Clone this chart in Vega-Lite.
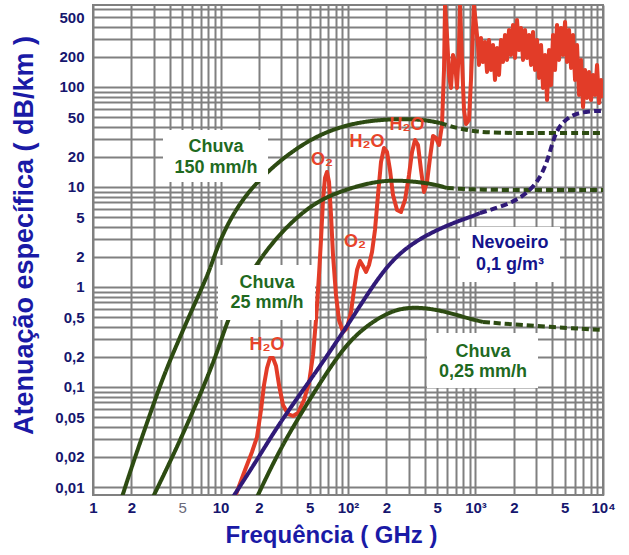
{
 "$schema": "https://vega.github.io/schema/vega-lite/v6.json",
 "width": 510, "height": 490,
 "autosize": "none",
 "padding": {"left": 93, "top": 5, "right": 26, "bottom": 60},
 "background": "white",
 "config": {"view": {"stroke": "#808080", "strokeWidth": 2}, "font": "Liberation Sans"},
 "datasets": {
  "gas": [
   {"freq":12.99,"aten":0.00794},{"freq":15.57,"aten":0.01479},{"freq":17.66,"aten":0.02239},{"freq":19.33,"aten":0.03162},{"freq":20.78,"aten":0.05888},{"freq":21.94,"aten":0.1047},{"freq":23.16,"aten":0.1549},{"freq":24.45,"aten":0.195},{"freq":25.81,"aten":0.195},{"freq":27.25,"aten":0.1622},{"freq":28.77,"aten":0.1047},{"freq":30.92,"aten":0.06607},{"freq":33.83,"aten":0.0537},{"freq":37.04,"aten":0.05129},{"freq":40.53,"aten":0.05495},{"freq":45.17,"aten":0.07413},{"freq":49.44,"aten":0.1096},{"freq":53.15,"aten":0.2089},{"freq":56.11,"aten":0.4677},{"freq":59.23,"aten":1.318},{"freq":61.4,"aten":2.951},{"freq":63.68,"aten":7.413},{"freq":66.01,"aten":12.3},{"freq":68.44,"aten":14.13},{"freq":70.96,"aten":11.22},{"freq":73.57,"aten":5.248},{"freq":76.28,"aten":2.089},{"freq":80.52,"aten":0.8318},{"freq":85.0,"aten":0.4677},{"freq":91.37,"aten":0.3548},{"freq":98.2,"aten":0.389},{"freq":105.6,"aten":0.5623},{"freq":111.4,"aten":0.9333},{"freq":117.7,"aten":1.479},{"freq":124.2,"aten":1.82},{"freq":131.1,"aten":1.622},{"freq":138.4,"aten":1.413},{"freq":146.1,"aten":1.66},{"freq":154.3,"aten":2.239},{"freq":162.8,"aten":3.715},{"freq":171.9,"aten":8.318},{"freq":181.5,"aten":17.78},{"freq":191.6,"aten":24.55},{"freq":202.3,"aten":22.39},{"freq":213.5,"aten":14.79},{"freq":225.4,"aten":8.318},{"freq":242.3,"aten":5.888},{"freq":260.4,"aten":5.623},{"freq":280.0,"aten":7.413},{"freq":300.9,"aten":13.18},{"freq":317.8,"aten":22.39},{"freq":335.4,"aten":29.51},{"freq":354.0,"aten":26.3},{"freq":373.7,"aten":14.79},{"freq":394.6,"aten":8.913},{"freq":416.5,"aten":11.22},{"freq":439.7,"aten":19.5},{"freq":464.2,"aten":32.36},{"freq":490.0,"aten":30.9},{"freq":517.3,"aten":26.3},{"freq":546.1,"aten":41.69},{"freq":566.2,"aten":147.9},{"freq":576.6,"aten":650},{"freq":597.6,"aten":331.1},{"freq":619.8,"aten":131.8},{"freq":642.5,"aten":97.72},{"freq":666.2,"aten":208.9},{"freq":690.6,"aten":177.8},{"freq":716.1,"aten":97.72},{"freq":742.4,"aten":263},{"freq":755.9,"aten":650},{"freq":783.7,"aten":186.2},{"freq":812.6,"aten":58.88},{"freq":842.4,"aten":42.66},{"freq":889.2,"aten":46.77},{"freq":921.9,"aten":117.5},{"freq":955.5,"aten":371.5},{"freq":973.2,"aten":650},{"freq":1009,"aten":416.9},{"freq":1046,"aten":263},
   {"freq":1065,"aten":166},{"freq":1104,"aten":309},{"freq":1145,"aten":177.8},{"freq":1187,"aten":281.8},{"freq":1231,"aten":141.3},{"freq":1276,"aten":295.1},{"freq":1323,"aten":147.9},{"freq":1372,"aten":263},{"freq":1422,"aten":117.5},{"freq":1475,"aten":245.5},{"freq":1529,"aten":131.8},{"freq":1585,"aten":295.1},{"freq":1644,"aten":177.8},{"freq":1704,"aten":331.1},{"freq":1767,"aten":186.2},{"freq":1832,"aten":371.5},{"freq":1899,"aten":208.9},{"freq":1969,"aten":416.9},{"freq":2042,"aten":195},{"freq":2117,"aten":467.7},{"freq":2195,"aten":234.4},{"freq":2275,"aten":389},{"freq":2359,"aten":186.2},{"freq":2446,"aten":371.5},{"freq":2536,"aten":195},{"freq":2629,"aten":331.1},{"freq":2726,"aten":166},{"freq":2826,"aten":354.8},{"freq":2930,"aten":147.9},{"freq":3038,"aten":295.1},{"freq":3150,"aten":123},{"freq":3266,"aten":263},{"freq":3386,"aten":97.72},{"freq":3510,"aten":208.9},{"freq":3640,"aten":74.13},{"freq":3773,"aten":234.4},{"freq":3912,"aten":104.7},{"freq":4056,"aten":331.1},{"freq":4205,"aten":147.9},{"freq":4360,"aten":416.9},{"freq":4521,"aten":186.2},{"freq":4687,"aten":389},{"freq":4859,"aten":208.9},{"freq":5038,"aten":446.7},{"freq":5223,"aten":177.8},{"freq":5416,"aten":371.5},{"freq":5615,"aten":154.9},{"freq":5821,"aten":331.1},{"freq":6036,"aten":117.5},{"freq":6258,"aten":263},{"freq":6488,"aten":83.18},{"freq":6727,"aten":186.2},{"freq":6974,"aten":63.1},{"freq":7231,"aten":147.9},{"freq":7497,"aten":77.62},{"freq":7773,"aten":141.3},{"freq":8059,"aten":74.13},{"freq":8355,"aten":131.8},{"freq":8663,"aten":83.18},{"freq":8981,"aten":166},{"freq":9312,"aten":69.18},{"freq":9655,"aten":117.5},{"freq":10000,"aten":77.62}
  ],
  "chuva": [
   {"serie":"150","trecho":"solid","freq":1.688,"aten":0.00794},{"serie":"150","trecho":"solid","freq":2.059,"aten":0.01738},{"serie":"150","trecho":"solid","freq":2.7,"aten":0.04677},{"serie":"150","trecho":"solid","freq":3.54,"aten":0.1259},{"serie":"150","trecho":"solid","freq":4.812,"aten":0.3162},{"serie":"150","trecho":"solid","freq":6.31,"aten":0.6918},{"serie":"150","trecho":"solid","freq":8.274,"aten":1.479},{"serie":"150","trecho":"solid","freq":9.387,"aten":2.512},{"serie":"150","trecho":"solid","freq":12.53,"aten":5.495},{"serie":"150","trecho":"solid","freq":17.98,"aten":10.23},{"serie":"150","trecho":"solid","freq":27.74,"aten":17.38},{"serie":"150","trecho":"solid","freq":42.03,"aten":25.7},{"serie":"150","trecho":"solid","freq":63.68,"aten":34.67},{"serie":"150","trecho":"solid","freq":109.5,"aten":43.65},{"serie":"150","trecho":"solid","freq":202.3,"aten":47.86},{"serie":"150","trecho":"solid","freq":367.2,"aten":47.86},{"serie":"150","trecho":"solid","freq":526.7,"aten":43.65},
   {"serie":"150","trecho":"dashed","freq":526.7,"aten":43.65},{"serie":"150","trecho":"dashed","freq":798,"aten":37.15},{"serie":"150","trecho":"dashed","freq":1300,"aten":34.67},{"serie":"150","trecho":"dashed","freq":2675,"aten":34.67},{"serie":"150","trecho":"dashed","freq":10000,"aten":34.67},
   {"serie":"25","trecho":"solid","freq":2.955,"aten":0.00794},{"serie":"25","trecho":"solid","freq":4.018,"aten":0.01778},{"serie":"25","trecho":"solid","freq":5.462,"aten":0.04169},{"serie":"25","trecho":"solid","freq":7.292,"aten":0.09772},{"serie":"25","trecho":"solid","freq":9.387,"aten":0.2188},{"serie":"25","trecho":"solid","freq":11.25,"aten":0.4467},{"serie":"25","trecho":"solid","freq":14.22,"aten":0.8913},{"serie":"25","trecho":"solid","freq":19.33,"aten":1.738},{"serie":"25","trecho":"solid","freq":27.74,"aten":3.162},{"serie":"25","trecho":"solid","freq":42.03,"aten":5.37},{"serie":"25","trecho":"solid","freq":63.68,"aten":7.762},{"serie":"25","trecho":"solid","freq":109.5,"aten":10},{"serie":"25","trecho":"solid","freq":188.2,"aten":11.75},{"serie":"25","trecho":"solid","freq":306.4,"aten":11.48},{"serie":"25","trecho":"solid","freq":464.2,"aten":10.72},{"serie":"25","trecho":"solid","freq":597.6,"aten":9.772},
   {"serie":"25","trecho":"dashed","freq":597.6,"aten":9.772},{"serie":"25","trecho":"dashed","freq":1084,"aten":9.333},{"serie":"25","trecho":"dashed","freq":3206,"aten":9.333},{"serie":"25","trecho":"dashed","freq":10000,"aten":9.333},
   {"serie":"0,25","trecho":"solid","freq":19.33,"aten":0.00794},{"serie":"0,25","trecho":"solid","freq":27.74,"aten":0.02089},{"serie":"0,25","trecho":"solid","freq":39.81,"aten":0.04677},{"serie":"0,25","trecho":"solid","freq":63.68,"aten":0.123},{"serie":"0,25","trecho":"solid","freq":98.2,"aten":0.2754},{"serie":"0,25","trecho":"solid","freq":148.8,"aten":0.4365},{"serie":"0,25","trecho":"solid","freq":225.4,"aten":0.5888},{"serie":"0,25","trecho":"solid","freq":323.6,"aten":0.631},{"serie":"0,25","trecho":"solid","freq":464.2,"aten":0.6026},{"serie":"0,25","trecho":"solid","freq":631,"aten":0.5495},{"serie":"0,25","trecho":"solid","freq":857.7,"aten":0.4898},{"serie":"0,25","trecho":"solid","freq":1145,"aten":0.4467},
   {"serie":"0,25","trecho":"dashed","freq":1145,"aten":0.4467},{"serie":"0,25","trecho":"dashed","freq":2825,"aten":0.4074},{"serie":"0,25","trecho":"dashed","freq":10000,"aten":0.3715}
  ],
  "nevoeiro": [
   {"trecho":"solid","freq":12.53,"aten":0.00794},{"trecho":"solid","freq":19.33,"aten":0.01862},{"trecho":"solid","freq":27.74,"aten":0.03981},{"trecho":"solid","freq":44.36,"aten":0.09333},{"trecho":"solid","freq":63.68,"aten":0.1778},{"trecho":"solid","freq":109.5,"aten":0.5012},{"trecho":"solid","freq":148.8,"aten":0.9333},{"trecho":"solid","freq":225.4,"aten":1.95},{"trecho":"solid","freq":367.2,"aten":3.09},{"trecho":"solid","freq":631,"aten":4.266},{"trecho":"solid","freq":955.5,"aten":5.129},{"trecho":"solid","freq":1084,"aten":5.495},
   {"trecho":"dashed","freq":1084,"aten":5.495},{"trecho":"dashed","freq":1556,"aten":6.31},{"trecho":"dashed","freq":2234,"aten":7.586},{"trecho":"dashed","freq":3034,"aten":10.72},{"trecho":"dashed","freq":3638,"aten":17.38},{"trecho":"dashed","freq":4055,"aten":29.51},{"trecho":"dashed","freq":4603,"aten":42.66},{"trecho":"dashed","freq":5821,"aten":53.7},{"trecho":"dashed","freq":7907,"aten":57.54},{"trecho":"dashed","freq":10000,"aten":57.54}
  ],
  "caixas": [
   {"freq":3.54,"freq2":23.59,"aten":37.15,"aten2":11.22},
   {"freq":9.559,"freq2":55.1,"aten":1.66,"aten2":0.4677},
   {"freq":755.9,"freq2":4603,"aten":3.981,"aten2":1.122},
   {"freq":416.5,"freq2":3092,"aten":0.3467,"aten2":0.09772}
  ],
  "rotulos": [
   {"txt":"Chuva","freq":9.219,"aten":25.12,"tipo":"chuva"},
   {"txt":"150 mm/h","freq":9.219,"aten":15.49,"tipo":"chuva"},
   {"txt":"Chuva","freq":23.16,"aten":1.096,"tipo":"chuva"},
   {"txt":"25 mm/h","freq":23.16,"aten":0.6918,"tipo":"chuva"},
   {"txt":"Nevoeiro","freq":1865,"aten":2.754,"tipo":"nevoeiro"},
   {"txt":"0,1 g/m³","freq":1865,"aten":1.66,"tipo":"nevoeiro"},
   {"txt":"Chuva","freq":1145,"aten":0.2239,"tipo":"chuva"},
   {"txt":"0,25 mm/h","freq":1145,"aten":0.1413,"tipo":"chuva"},
   {"txt":"H₂O","freq":23.16,"aten":0.263,"tipo":"gas"},
   {"txt":"O₂","freq":62.53,"aten":18.62,"tipo":"gas"},
   {"txt":"O₂","freq":113.4,"aten":2.818,"tipo":"gas"},
   {"txt":"H₂O","freq":140.9,"aten":28.18,"tipo":"gas"},
   {"txt":"H₂O","freq":290.2,"aten":41.69,"tipo":"gas"}
  ]
 },
 "encoding": {
  "x": {"field": "freq", "type": "quantitative",
   "scale": {"type": "log", "domain": [1, 10000], "nice": false},
   "axis": {
    "values": [1,2,3,4,5,6,7,8,9,10,20,30,40,50,60,70,80,90,100,200,300,400,500,600,700,800,900,1000,2000,3000,4000,5000,6000,7000,8000,9000,10000],
    "grid": true, "gridColor": "#808080", "gridWidth": 2, "gridOpacity": 1,
    "ticks": false, "domain": false,
    "labelExpr": "datum.value==1?'1':datum.value==2?'2':datum.value==5?'5':datum.value==10?'10':datum.value==20?'2':datum.value==50?'5':datum.value==100?'10²':datum.value==200?'2':datum.value==500?'5':datum.value==1000?'10³':datum.value==2000?'2':datum.value==5000?'5':datum.value==10000?'10⁴':''",
    "labelFont": "Liberation Sans", "labelFontSize": 15,
    "labelFontWeight": {"condition": {"test": "datum.value==5", "value": "normal"}, "value": "bold"},
    "labelColor": {"condition": {"test": "datum.value==5", "value": "#6a6a7a"}, "value": "#16166e"},
    "labelPadding": 5, "labelOverlap": false, "labelFlush": false, "labelBound": false,
    "title": "Frequência ( GHz )", "titleFont": "Liberation Sans", "titleFontSize": 24, "titleFontWeight": "bold", "titleColor": "#1a1aa6",
    "titleX": 238, "titleY": 40, "titleBaseline": "middle", "titleAlign": "center"
   }
  },
  "y": {"field": "aten", "type": "quantitative",
   "scale": {"type": "log", "domain": [0.00832, 660], "nice": false},
   "axis": {
    "values": [0.01,0.02,0.03,0.04,0.05,0.06,0.07,0.08,0.09,0.1,0.2,0.3,0.4,0.5,0.6,0.7,0.8,0.9,1,2,3,4,5,6,7,8,9,10,20,30,40,50,60,70,80,90,100,200,300,400,500,600],
    "grid": true, "gridColor": "#808080", "gridWidth": 2, "gridOpacity": 1,
    "ticks": false, "domain": false,
    "labelExpr": "datum.value==0.01?'0,01':datum.value==0.02?'0,02':datum.value==0.05?'0,05':datum.value==0.1?'0,1':datum.value==0.2?'0,2':datum.value==0.5?'0,5':datum.value==1?'1':datum.value==2?'2':datum.value==5?'5':datum.value==10?'10':datum.value==20?'20':datum.value==50?'50':datum.value==100?'100':datum.value==200?'200':datum.value==500?'500':''",
    "labelFont": "Liberation Sans", "labelFontSize": 15, "labelFontWeight": "bold", "labelColor": "#16166e",
    "labelPadding": 9, "labelOverlap": false, "labelFlush": false, "labelBound": false,
    "title": "Atenuação específica ( dB/km )", "titleFont": "Liberation Sans", "titleFontSize": 27, "titleFontWeight": "bold", "titleColor": "#1a1aa6",
    "titleX": -69, "titleY": 230, "titleAngle": 270, "titleBaseline": "middle", "titleAlign": "center"
   }
  }
 },
 "layer": [
  {"data": {"name": "gas"}, "mark": {"type": "line", "color": "#e23c28", "strokeWidth": 4, "clip": true, "strokeJoin": "round"}},
  {"data": {"name": "chuva"}, "mark": {"type": "line", "color": "#2d4b12", "strokeWidth": 4, "clip": true, "interpolate": "basis"},
   "encoding": {"detail": {"field": "serie"}, "strokeDash": {"field": "trecho", "type": "nominal", "scale": {"domain": ["solid","dashed"], "range": [[1,0],[7,4]]}, "legend": null}}},
  {"data": {"name": "nevoeiro"}, "mark": {"type": "line", "color": "#301a78", "strokeWidth": 4, "clip": true, "interpolate": "basis"},
   "encoding": {"strokeDash": {"field": "trecho", "type": "nominal", "scale": {"domain": ["solid","dashed"], "range": [[1,0],[7,4]]}, "legend": null}}},
  {"data": {"name": "caixas"}, "mark": {"type": "rect", "color": "white", "opacity": 1},
   "encoding": {"x2": {"field": "freq2"}, "y2": {"field": "aten2"}}},
  {"data": {"name": "rotulos"}, "mark": {"type": "text", "font": "Liberation Sans", "fontSize": 18, "fontWeight": "bold", "align": "center", "baseline": "middle"},
   "encoding": {"text": {"field": "txt"}, "color": {"field": "tipo", "type": "nominal", "scale": {"domain": ["chuva","nevoeiro","gas"], "range": ["#1f6a1f","#14148c","#e8442a"]}, "legend": null}}}
 ]
}
